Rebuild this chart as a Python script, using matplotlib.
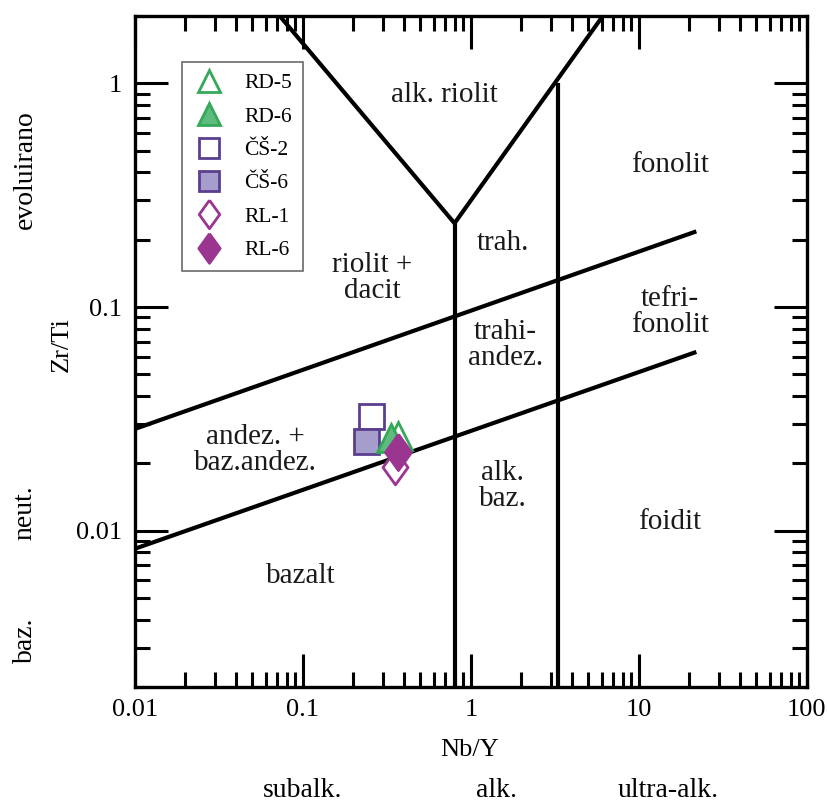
import matplotlib
matplotlib.use("Agg")
import matplotlib.pyplot as plt
import numpy as np

plt.rcParams['font.family'] = ['Liberation Serif', 'DejaVu Serif']

# samples (Nb/Y, Zr/Ti)
names = ['ČŠ-2', 'ČŠ-6', 'RD-5', 'RD-6', 'RL-1', 'RL-6']
nb_y = [0.254, 0.237, 0.367, 0.334, 0.353, 0.367]
zr_ti = [0.0326, 0.0252, 0.0265, 0.026, 0.0193, 0.0225]

# field boundaries
v_left_x = [0.073, 0.80, 6.1]
v_left_y = [2.0, 0.237, 2.0]
stem_x = [0.80, 0.80]
stem_y = [0.002, 0.237]
v2_x = [3.3, 3.3]
v2_y = [0.002, 1.0]
upper_x = [0.01, 22]
upper_y = [0.0285, 0.218]
lower_x = [0.01, 22]
lower_y = [0.0083, 0.063]

field_names = ['alk. riolit', 'fonolit', 'trah.', 'riolit +\ndacit', 'tefri-\nfonolit',
               'trahi-\nandez.', 'andez. +\nbaz.andez.', 'alk.\nbaz.', 'foidit', 'bazalt']
field_x = [0.70, 15.3, 1.55, 0.258, 15.3, 1.6, 0.052, 1.55, 15.3, 0.097]
field_y = [0.884, 0.43, 0.193, 0.135, 0.095, 0.068, 0.0229, 0.0159, 0.0109, 0.0063]

fig = plt.figure(figsize=(8.27, 8.05), dpi=100)
ax = fig.add_axes([0.163, 0.1466, 0.8126, 0.8334])
ax.set_xscale('log')
ax.set_yscale('log')
ax.set_xlim(0.01, 100)
ax.set_ylim(0.002, 2)

lw = 3
for xs, ys in [(v_left_x, v_left_y), (stem_x, stem_y), (v2_x, v2_y), (upper_x, upper_y), (lower_x, lower_y)]:
    ax.plot(xs, ys, color='black', lw=lw, solid_capstyle='butt', zorder=2)

for i in range(len(field_names)):
    ax.text(field_x[i], field_y[i], field_names[i], ha='center', va='center',
            fontsize=21, linespacing=1.0, color='#1a1a1a', zorder=3)

green_e = '#35a85a'
green_f = '#5dbb7e'
purp_e = '#5b3f8f'
purp_f = '#a59dcc'
mag = '#9a3590'
diamond = [(0, 1), (0.72, 0), (0, -1), (-0.72, 0), (0, 1)]

styles = {
    'ČŠ-2': dict(marker='s', ms=18, mfc='white', mec=purp_e),
    'ČŠ-6': dict(marker='s', ms=18, mfc=purp_f, mec=purp_e),
    'RD-5': dict(marker='^', ms=20, mfc='none', mec=green_e),
    'RD-6': dict(marker='^', ms=20, mfc=green_f, mec=green_e),
    'RL-1': dict(marker=diamond, ms=25, mfc='white', mec=mag),
    'RL-6': dict(marker=diamond, ms=26, mfc=mag, mec=mag),
}

handles = {}
for i, n in enumerate(names):
    h, = ax.plot(nb_y[i], zr_ti[i], ls='none', mew=2, label=n, zorder=5, **styles[n])
    handles[n] = h

order = ['RD-5', 'RD-6', 'ČŠ-2', 'ČŠ-6', 'RL-1', 'RL-6']
leg = ax.legend([handles[n] for n in order], order, loc='upper left',
                bbox_to_anchor=(0.07, 0.931), borderaxespad=0, fontsize=15.5,
                markerscale=0.82, labelspacing=0.62, handletextpad=0.9,
                handlelength=1.5, borderpad=0.5, fancybox=False, frameon=True)
leg.get_frame().set_edgecolor('#444444')
leg.get_frame().set_linewidth(1.2)

ax.set_xticks([0.01, 0.1, 1, 10, 100])
ax.set_xticklabels(['0.01', '0.1', '1', '10', '100'])
ax.set_yticks([0.01, 0.1, 1])
ax.set_yticklabels(['0.01', '0.1', '1'])
ax.tick_params(which='both', direction='in', top=True, right=True, width=2.2, labelsize=19)
ax.tick_params(which='major', length=24, pad=9)
ax.tick_params(which='minor', length=11)
for s in ax.spines.values():
    s.set_linewidth(2.4)

# axis labels and class names
fig.text(470/827, 1 - 750/805, 'Nb/Y', ha='center', va='center', fontsize=19)
fig.text(303/827, 1 - 778/805, 'subalk.', ha='center', va='top', fontsize=20)
fig.text(497/827, 1 - 778/805, 'alk.', ha='center', va='top', fontsize=20)
fig.text(668/827, 1 - 778/805, 'ultra-alk.', ha='center', va='top', fontsize=20)
fig.text(62/827, 1 - 345/805, 'Zr/Ti', ha='center', va='center', rotation=90, fontsize=19)
fig.text(25/827, 1 - 170/805, 'evoluirano', ha='center', va='center', rotation=90, fontsize=20)
fig.text(25/827, 1 - 513/805, 'neut.', ha='center', va='center', rotation=90, fontsize=20)
fig.text(25/827, 1 - 640/805, 'baz.', ha='center', va='center', rotation=90, fontsize=20)

fig.savefig('out.png', dpi=100)
